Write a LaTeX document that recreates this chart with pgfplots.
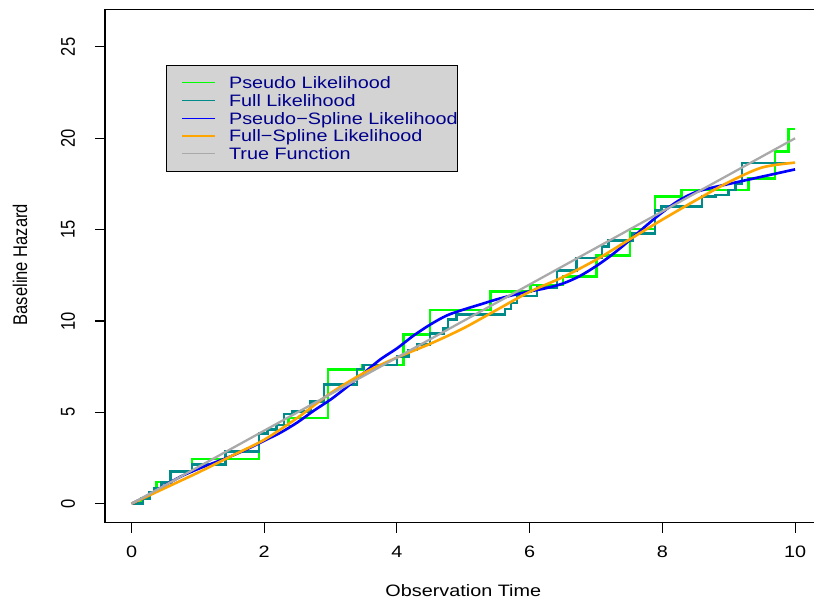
\documentclass[border=0pt]{standalone}
\usepackage{fontspec}
\setmainfont{Liberation Sans}
\usepackage{graphicx}
\usepackage{pgfplots}
\pgfplotsset{compat=1.18}

\definecolor{pgreen}{RGB}{0,255,0}
\definecolor{fteal}{RGB}{0,139,139}
\definecolor{sblue}{RGB}{0,0,255}
\definecolor{forange}{RGB}{255,165,0}
\definecolor{tgray}{RGB}{169,169,169}
\definecolor{leggray}{RGB}{211,211,211}
\definecolor{legtext}{RGB}{0,0,139}

% R output is a bit wider than tall: stretch text sideways
\newcommand{\hs}[1]{\scalebox{1.2}[1]{#1}}
\newcommand{\vs}[1]{\scalebox{1}[1.2]{#1}}
\newcommand{\rfont}{\fontsize{9.4}{11}\selectfont}

\begin{document}
\begin{tikzpicture}
\begin{axis}[
    name=ax,
    scale only axis,
    width=14.332cm, height=10.26cm,
    xmin=-0.4, xmax=10.4, ymin=-1.04, ymax=27.04,
    axis line style={line width=0.6pt},
    tick style={black, line width=0.6pt},
    tick align=outside, major tick length=0.2cm,
    tick pos=left,
    xtick={0,2,4,6,8,10},
    xticklabels={\hs{0},\hs{2},\hs{4},\hs{6},\hs{8},\hs{10}},
    ytick={0,5,10,15,20,25},
    yticklabels={\vs{0},\vs{5},\vs{10},\vs{15},\vs{20},\vs{25}},
    tick label style={font=\rfont},
    xticklabel style={anchor=center, yshift=-0.38cm},
    yticklabel style={xshift=-0.54cm, rotate=90, anchor=center},
    every axis x label/.style={at={(axis description cs:0.5,-0.1326)}, anchor=center, font=\rfont},
    every axis y label/.style={at={(axis description cs:-0.1186,0.503)}, anchor=center, rotate=90, font=\rfont},
    xlabel={\hs{Observation Time}},
    ylabel={\vs{Baseline Hazard}},
    legend style={
        at={(axis cs:0.512,24.02)}, anchor=north west,
        fill=leggray, draw=black, line width=0.6pt,
        inner xsep=0pt, inner ysep=0.17cm,
        row sep=0pt,
        font=\rfont, text=legtext,
        nodes={inner sep=0pt, text height=0.2965cm, text depth=0.0585cm},
    },
    legend cell align=left,
    legend image code/.code={
        \path[draw=none, fill=none] (0cm,0cm) -- (1.26cm,0cm);
        \draw[#1, line width=0.6pt] (0.32cm,0cm) -- (0.98cm,0cm);
    },
]
% Pseudo likelihood (step)
\addplot[const plot, color=pgreen, line width=1.5pt] coordinates {
(0,0) (0.15,0.3) (0.27,0.65) (0.38,1.19) (0.59,1.77) (0.91,2.45)
(1.92,3.85) (2.05,4.05) (2.18,4.3) (2.37,4.69) (2.96,7.33) (3.48,7.6)
(4.10,9.25) (4.50,10.61) (5.41,11.61) (6.01,11.98) (6.50,12.44)
(7.01,13.6) (7.51,15.03) (7.89,16.8) (8.29,17.18) (9.30,17.8)
(9.70,19.27) (9.90,20.5) (10.0,20.5)
};
\addlegendentry{\hs{Pseudo Likelihood}}
% Full likelihood (step)
\addplot[const plot, color=fteal, line width=1.5pt] coordinates {
(0,0) (0.17,0.3) (0.27,0.6) (0.35,0.85) (0.45,1.15) (0.59,1.77)
(0.91,2.13) (1.42,2.86) (1.92,3.85) (2.05,4.05) (2.18,4.3) (2.30,4.9)
(2.42,5.05) (2.70,5.6) (2.90,6.51) (3.40,7.38) (3.50,7.6) (4.00,8.06)
(4.17,8.42) (4.30,8.7) (4.50,9.3) (4.70,9.6) (4.77,10.07) (4.90,10.36)
(5.63,10.65) (5.72,10.98) (5.81,11.36) (6.11,11.82) (6.41,12.76)
(6.71,13.44) (7.09,14.07) (7.19,14.4) (7.55,14.8) (7.89,16.05)
(7.99,16.25) (8.60,16.8) (8.80,16.9) (9.00,17.18) (9.10,17.5)
(9.20,18.64) (10.0,18.64)
};
\addlegendentry{\hs{Full Likelihood}}
% Pseudo-spline
\addplot[smooth, color=sblue, line width=1.5pt] coordinates {
(0,0) (0.25,0.45) (0.5,1.0) (0.75,1.5) (1.0,1.9) (1.25,2.25) (1.5,2.6)
(1.75,3.0) (2.0,3.45) (2.25,3.9) (2.5,4.45) (2.75,5.1) (3.0,5.7)
(3.25,6.4) (3.5,7.15) (3.75,7.9) (4.0,8.5) (4.25,9.2) (4.5,9.8)
(4.75,10.3) (5.0,10.62) (5.25,10.9) (5.5,11.18) (5.75,11.42) (6.0,11.62)
(6.25,11.8) (6.5,12.05) (6.75,12.45) (7.0,13.0) (7.25,13.65) (7.5,14.4)
(7.75,15.2) (8.0,15.95) (8.25,16.6) (8.5,17.05) (8.75,17.3) (9.0,17.5)
(9.25,17.7) (9.5,17.9) (9.75,18.1) (10.0,18.3)
};
\addlegendentry{\hs{Pseudo−Spline Likelihood}}
% Full-spline
\addplot[smooth, color=forange, line width=1.5pt] coordinates {
(0,0) (0.5,0.85) (1.0,1.7) (1.5,2.6) (2.0,3.5) (2.5,4.7) (3.0,6.05)
(3.5,7.15) (4.0,8.0) (4.5,8.75) (5.0,9.6) (5.5,10.6) (6.0,11.6)
(6.5,12.4) (7.0,13.35) (7.5,14.45) (8.0,15.55) (8.5,16.6) (9.0,17.6)
(9.5,18.4) (10.0,18.67)
};
\addlegendentry{\hs{Full−Spline Likelihood}}
% True function
\addplot[color=tgray, line width=1.3pt] coordinates {(0,0) (10,20)};
\addlegendentry{\hs{True Function}}
\end{axis}
\pgfresetboundingbox
\path[use as bounding box] ([xshift=-2.1cm,yshift=-1.58cm]ax.south west)
    rectangle ([xshift=14.18cm,yshift=0.194cm]ax.north west);
\end{tikzpicture}
\end{document}
